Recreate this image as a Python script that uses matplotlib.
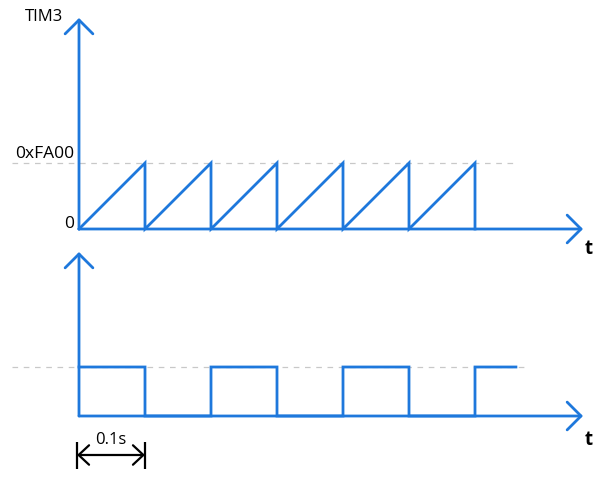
import matplotlib
matplotlib.use("Agg")
import matplotlib.pyplot as plt

# ---------------------------------------------------------------------------
# Data
# ---------------------------------------------------------------------------
PEAK = 0xFA00

# TIM3 counter: ramps to 0xFA00 every 0.1 s, then resets
saw_t = [0.0, 0.1, 0.1, 0.2, 0.2, 0.3, 0.3, 0.4, 0.4, 0.5, 0.5, 0.6, 0.6]
saw_v = [0, PEAK, 0, PEAK, 0, PEAK, 0, PEAK, 0, PEAK, 0, PEAK, 0]

# output pin toggled on every reload
sq_t = [0.0, 0.1, 0.1, 0.2, 0.2, 0.3, 0.3, 0.4, 0.4, 0.5, 0.5, 0.6, 0.6, 0.662]
sq_v = [1, 1, 0, 0, 1, 1, 0, 0, 1, 1, 0, 0, 1, 1]

# ---------------------------------------------------------------------------
# Layout (pixels of the 611x478 canvas)
# ---------------------------------------------------------------------------
W, H, DPI = 611, 478, 100
BLUE = "#1E78DC"
GRAY = "#C8C8C8"
FONT = "Open Sans"

X0, SX = 79, 660            # px of t=0, px per second
TOP_Y0, TOP_SY = 229, 66 / PEAK
BOT_Y0, BOT_SY = 416, 49


def px_t(px):
    return (px - X0) / SX


fig = plt.figure(figsize=(W / DPI, H / DPI), dpi=DPI, facecolor="white")
ax1 = fig.add_axes([0, 0, 1, 1])
ax2 = fig.add_axes([0, 0, 1, 1])
for ax, y0, sy in ((ax1, TOP_Y0, TOP_SY), (ax2, BOT_Y0, BOT_SY)):
    ax.set_xlim(px_t(0), px_t(W))
    ax.set_ylim((y0 - H) / sy, y0 / sy)
    ax.axis("off")
    ax.patch.set_alpha(0)

axis_arrow = dict(arrowstyle="->,head_length=1.0,head_width=1.0",
                  color=BLUE, lw=2.0, shrinkA=0, shrinkB=0,
                  mutation_scale=10)
dash = (0, (4.5, 4.5))

# ---- top panel: counter --------------------------------------------------
ax1.hlines(PEAK, px_t(12), px_t(517), colors=GRAY, lw=0.9,
           linestyles=[dash], zorder=1)
ax1.plot(saw_t, saw_v, color=BLUE, lw=2.0, zorder=3, solid_joinstyle="miter",
         snap=False)
ax1.annotate("", xy=(0, (TOP_Y0 - 18) / TOP_SY), xytext=(0, 0),
             arrowprops=axis_arrow, zorder=4)
ax1.annotate("", xy=(px_t(583), 0), xytext=(0, 0),
             arrowprops=axis_arrow, zorder=4)
ax1.text(px_t(63), (TOP_Y0 - 17) / TOP_SY, "TIM3", ha="right", va="center",
         fontsize=12, family=FONT, color="black")
ax1.text(px_t(74), (TOP_Y0 - 154) / TOP_SY, "0xFA00", ha="right",
         va="center", fontsize=12.5, family=FONT, color="black")
ax1.text(px_t(74), (TOP_Y0 - 224) / TOP_SY, "0", ha="right", va="center",
         fontsize=12.5, family=FONT, color="black")
ax1.text(px_t(589), (TOP_Y0 - 249) / TOP_SY, "t", ha="center", va="center",
         fontsize=13.5, fontweight="bold", family=FONT, color="black")

# ---- bottom panel: output ------------------------------------------------
ax2.hlines(1, px_t(12), px_t(528), colors=GRAY, lw=0.9,
           linestyles=[dash], zorder=1)
ax2.plot(sq_t, sq_v, color=BLUE, lw=2.0, zorder=3, solid_joinstyle="miter",
         snap=False)
ax2.annotate("", xy=(0, (BOT_Y0 - 252) / BOT_SY), xytext=(0, 0),
             arrowprops=axis_arrow, zorder=4)
ax2.annotate("", xy=(px_t(583), 0), xytext=(0, 0),
             arrowprops=axis_arrow, zorder=4)
ax2.text(px_t(589), (BOT_Y0 - 440) / BOT_SY, "t", ha="center", va="center",
         fontsize=13.5, fontweight="bold", family=FONT, color="black")

# ---- 0.1 s dimension marker ---------------------------------------------
dim_y = (BOT_Y0 - 455) / BOT_SY
ax2.vlines([px_t(77), 0.1], (BOT_Y0 - 469) / BOT_SY, (BOT_Y0 - 442) / BOT_SY,
           colors="black", lw=1.6)
ax2.annotate("", xy=(0.1, dim_y), xytext=(px_t(77), dim_y),
             arrowprops=dict(arrowstyle="<->,head_length=0.75,head_width=0.7",
                             color="black", lw=1.6, shrinkA=0, shrinkB=0,
                             mutation_scale=10))
ax2.text(px_t(111), (BOT_Y0 - 440) / BOT_SY, "0.1s", ha="center",
         va="center", fontsize=12, family=FONT, color="black")

fig.savefig("out.png", dpi=DPI, facecolor="white")
plt.close(fig)
